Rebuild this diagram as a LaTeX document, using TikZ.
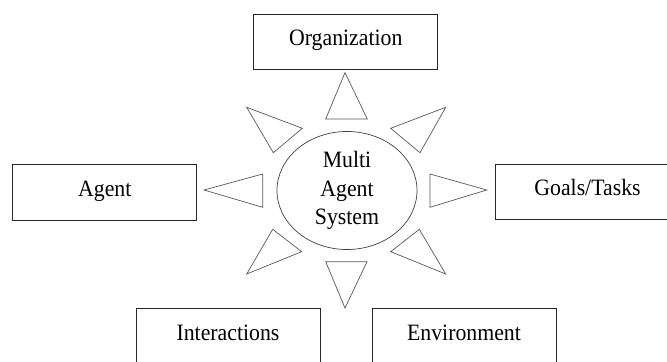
\documentclass[tikz,border=0pt]{standalone}
\usepackage{fontspec}
\setmainfont{Liberation Serif}[FakeStretch=0.93]
\usetikzlibrary{shapes.geometric}

\begin{document}
\begin{tikzpicture}[x=0.03cm, y=-0.03cm,
    font=\fontsize{20}{24}\selectfont,
    part/.style={draw=black!85, line width=0.8pt, inner sep=0pt,
                 minimum width=5.52cm, text height=27.2pt, text depth=20.4pt},
    core/.style={ellipse, draw=black!75, line width=0.6pt, inner sep=0pt,
                 minimum width=4.2cm, minimum height=3.54cm, align=center},
    ray/.style={draw=black!65, line width=0.6pt, line join=miter}]
\useasboundingbox (0,0) rectangle (667,361);
\clip (0,0) rectangle (667,361);
% centre
\node[core] (mas) at (347,190.5) {Multi\\Agent\\System};
% parts
\node[part] (org) at (345.8,42) {Organization};
\node[part] (agent) at (104.8,192.5) {Agent};
\node[part] (goals) at (587.5,192) {Goals/Tasks};
\node[part] (inter) at (228,336.5) {Interactions};
\node[part] (env) at (464,336.5) {Environment};
% rays
\draw[ray] (345,72.7) -- (367.3,119) -- (325.7,119) -- cycle;
\draw[ray] (345,308) -- (367,261.7) -- (325.7,261.7) -- cycle;
\draw[ray] (204,190) -- (262.7,174) -- (262.7,207.3) -- cycle;
\draw[ray] (486.7,190) -- (430,174) -- (430,207.3) -- cycle;
\draw[ray] (246.7,107.3) -- (302.3,128.3) -- (273.3,152.7) -- cycle;
\draw[ray] (445.7,107.3) -- (390.7,128.3) -- (420,152.7) -- cycle;
\draw[ray] (246.7,274) -- (272.7,229.3) -- (301.7,251.7) -- cycle;
\draw[ray] (445.7,274) -- (419.3,229.3) -- (390.7,251.7) -- cycle;
\end{tikzpicture}
\end{document}
